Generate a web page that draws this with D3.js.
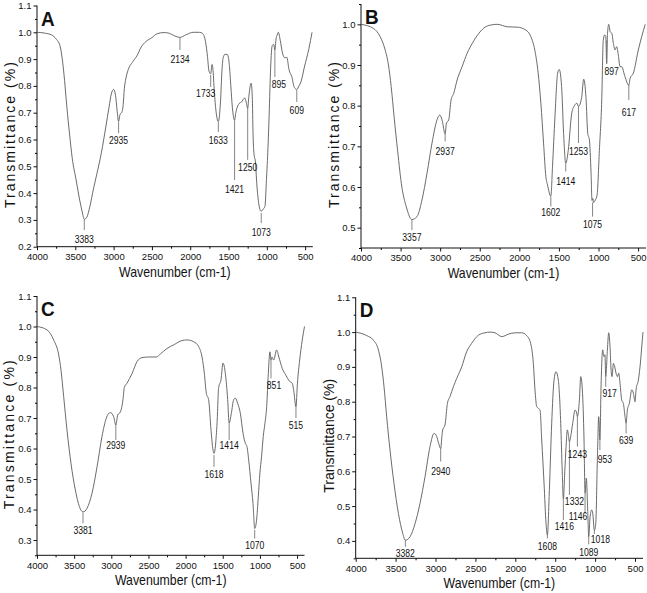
<!DOCTYPE html>
<html><head><meta charset="utf-8">
<script src="https://cdn.jsdelivr.net/npm/d3@7/dist/d3.min.js"></script>
<style>
body{margin:0;background:#fff;}
text{font-family:"Liberation Sans",Arial,sans-serif;fill:#111;}
</style></head><body>
<svg id="c" width="647" height="593"></svg>
<script>
// ---------- data ----------
const xTickValues = [4000,3500,3000,2500,2000,1500,1000,500];
const xMinorValues = [3750,3250,2750,2250,1750,1250,750];
const xDomain = [4000,400];

const waveA = [4000,3900,3810,3750,3700,3670,3640,3610,3575,3540,3490,3440,3410,3383,3350,3310,3260,3220,3160,3100,3060,3030,3000,2975,2955,2935,2915,2895,2875,2860,2845,2810,2750,2690,2640,2580,2500,2430,2340,2270,2200,2134,2060,1960,1880,1840,1800,1775,1755,1733,1715,1700,1690,1665,1633,1605,1585,1570,1545,1515,1490,1470,1450,1421,1405,1380,1360,1330,1290,1270,1250,1235,1205,1190,1180,1165,1150,1130,1105,1085,1073,1055,1025,1005,985,970,950,930,910,895,880,865,850,825,795,765,740,710,675,640,609,580,555,510,450,410];
const transA = [1.0,0.997,0.99,0.975,0.95,0.90,0.82,0.72,0.62,0.53,0.45,0.37,0.33,0.302,0.31,0.35,0.42,0.47,0.55,0.65,0.72,0.77,0.787,0.765,0.71,0.667,0.695,0.70,0.73,0.79,0.82,0.86,0.89,0.915,0.945,0.965,0.98,0.995,0.999,0.996,0.986,0.981,0.99,1.0,1.0,0.996,0.965,0.91,0.855,0.845,0.88,0.85,0.80,0.71,0.667,0.74,0.86,0.905,0.918,0.917,0.88,0.80,0.72,0.672,0.70,0.725,0.735,0.74,0.755,0.74,0.716,0.76,0.81,0.76,0.62,0.54,0.52,0.43,0.36,0.335,0.332,0.338,0.35,0.45,0.57,0.69,0.87,0.95,0.955,0.934,0.975,0.99,1.0,0.97,0.922,0.905,0.907,0.86,0.835,0.794,0.787,0.80,0.815,0.87,0.94,1.0];

const waveB = [4000,3843,3759,3695,3653,3619,3582,3538,3484,3429,3357,3293,3230,3166,3103,3040,3006,2976,2937,2921,2892,2862,2829,2786,2723,2659,2595,2511,2405,2278,2152,2024,1918,1855,1805,1762,1728,1694,1665,1644,1602,1581,1550,1516,1496,1466,1441,1414,1382,1339,1305,1272,1253,1213,1187,1158,1136,1115,1094,1082,1072,1062,1040,1018,989,959,940,922,908,897,886,870,853,832,812,791,770,750,728,708,665,617,601,560,497,410];
const transB = [1.0,0.99,0.97,0.937,0.90,0.847,0.773,0.69,0.60,0.552,0.52,0.527,0.568,0.634,0.708,0.765,0.777,0.765,0.73,0.757,0.765,0.814,0.83,0.863,0.896,0.929,0.953,0.978,0.996,1.0,0.994,0.993,0.986,0.97,0.937,0.88,0.806,0.708,0.626,0.605,0.577,0.65,0.773,0.88,0.889,0.847,0.732,0.658,0.69,0.78,0.80,0.806,0.798,0.82,0.865,0.82,0.732,0.716,0.634,0.567,0.572,0.562,0.568,0.58,0.69,0.814,0.96,0.974,0.97,0.904,0.978,1.0,0.982,0.978,0.953,0.937,0.945,0.925,0.896,0.896,0.871,0.85,0.867,0.88,0.937,1.0];

const waveC = [4000,3865,3776,3708,3677,3641,3596,3542,3484,3430,3381,3327,3260,3192,3125,3067,3013,2968,2939,2914,2878,2843,2825,2789,2721,2654,2587,2497,2394,2340,2250,2160,2048,1981,1891,1824,1779,1748,1721,1690,1658,1631,1618,1577,1555,1524,1497,1465,1434,1414,1385,1353,1331,1299,1263,1227,1196,1174,1151,1120,1093,1070,1045,1022,1000,978,955,932,909,887,865,851,838,815,775,745,700,650,600,565,545,515,495,465,430,400];
const transC = [1.0,0.989,0.956,0.907,0.857,0.77,0.66,0.55,0.464,0.41,0.392,0.404,0.453,0.54,0.64,0.70,0.718,0.704,0.677,0.71,0.72,0.76,0.80,0.814,0.846,0.885,0.898,0.90,0.90,0.91,0.928,0.94,0.954,0.956,0.95,0.934,0.90,0.847,0.781,0.76,0.66,0.595,0.584,0.683,0.80,0.825,0.88,0.846,0.76,0.683,0.715,0.76,0.765,0.748,0.715,0.65,0.617,0.606,0.562,0.486,0.42,0.338,0.365,0.442,0.52,0.573,0.64,0.683,0.737,0.846,0.917,0.89,0.90,0.89,0.923,0.90,0.863,0.84,0.82,0.814,0.79,0.737,0.814,0.89,0.956,1.0];

const waveD = [4000,3862,3779,3716,3674,3645,3612,3570,3520,3465,3411,3378,3319,3256,3194,3131,3069,3018,2985,2960,2935,2920,2910,2881,2851,2818,2776,2734,2672,2609,2546,2463,2379,2317,2254,2170,2087,2003,1920,1857,1807,1774,1753,1732,1711,1690,1669,1640,1615,1598,1573,1544,1515,1490,1461,1431,1412,1398,1380,1364,1348,1335,1322,1306,1281,1251,1231,1222,1197,1180,1160,1139,1126,1110,1093,1080,1063,1043,1030,1009,992,971,955,940,925,905,890,877,867,846,830,813,800,788,771,754,738,721,704,688,667,646,625,612,596,571,541,520,500,487,458,429,415,400];
const transD = [1.0,0.99,0.977,0.949,0.90,0.843,0.757,0.661,0.565,0.479,0.422,0.402,0.412,0.45,0.508,0.585,0.671,0.709,0.70,0.68,0.665,0.70,0.719,0.733,0.795,0.815,0.843,0.867,0.90,0.944,0.968,0.991,0.998,1.0,0.998,0.987,0.994,0.998,0.998,0.99,0.967,0.91,0.833,0.786,0.781,0.776,0.69,0.566,0.45,0.417,0.547,0.738,0.862,0.886,0.862,0.738,0.60,0.52,0.60,0.671,0.719,0.705,0.685,0.70,0.738,0.776,0.767,0.757,0.805,0.872,0.834,0.69,0.537,0.58,0.489,0.412,0.47,0.489,0.48,0.43,0.45,0.642,0.757,0.69,0.85,0.949,0.93,0.935,0.872,0.949,0.998,0.958,0.891,0.872,0.91,0.90,0.882,0.872,0.882,0.853,0.805,0.795,0.757,0.738,0.776,0.795,0.834,0.824,0.80,0.834,0.862,0.92,0.96,1.0];

// peak annotations: label, wavenumber, line from/to (transmittance), label centre (transmittance)
const peaksA = [
 {t:"3383",w:3383,y1:0.302,y2:0.262,ty:0.229,dx:0},
 {t:"2935",w:2935,y1:0.665,y2:0.624,ty:0.598,dx:0},
 {t:"2134",w:2134,y1:0.979,y2:0.934,ty:0.90,dx:0},
 {t:"1733",w:1733,y1:0.841,y2:0.796,ty:0.773,dx:-5},
 {t:"1633",w:1633,y1:0.665,y2:0.628,ty:0.598,dx:0},
 {t:"1421",w:1421,y1:0.672,y2:0.449,ty:0.412,dx:0},
 {t:"1250",w:1250,y1:0.716,y2:0.524,ty:0.497,dx:0},
 {t:"1073",w:1073,y1:0.326,y2:0.288,ty:0.255,dx:0},
 {t:"895",w:895,y1:0.934,y2:0.833,ty:0.807,dx:4},
 {t:"609",w:609,y1:0.785,y2:0.74,ty:0.71,dx:0}
];
const peaksB = [
 {t:"3357",w:3357,y1:0.519,y2:0.494,ty:0.477,dx:0},
 {t:"2937",w:2937,y1:0.73,y2:0.712,ty:0.687,dx:0},
 {t:"1602",w:1602,y1:0.576,y2:0.552,ty:0.538,dx:0},
 {t:"1414",w:1414,y1:0.658,y2:0.638,ty:0.615,dx:0},
 {t:"1253",w:1253,y1:0.798,y2:0.708,ty:0.687,dx:0},
 {t:"1075",w:1075,y1:0.562,y2:0.527,ty:0.509,dx:0},
 {t:"897",w:897,y1:0.96,y2:0.903,ty:0.885,dx:5},
 {t:"617",w:617,y1:0.851,y2:0.814,ty:0.783,dx:0}
];
const peaksC = [
 {t:"3381",w:3381,y1:0.39,y2:0.355,ty:0.33,dx:0},
 {t:"2939",w:2939,y1:0.677,y2:0.628,ty:0.611,dx:0},
 {t:"1618",w:1618,y1:0.579,y2:0.54,ty:0.515,dx:0},
 {t:"1414",w:1414,y1:0.683,y2:0.628,ty:0.609,dx:0},
 {t:"1070",w:1070,y1:0.333,y2:0.305,ty:0.284,dx:0},
 {t:"851",w:851,y1:0.89,y2:0.83,ty:0.808,dx:3},
 {t:"515",w:515,y1:0.737,y2:0.70,ty:0.677,dx:0}
];
const peaksD = [
 {t:"3382",w:3378,y1:0.403,y2:0.383,ty:0.364,dx:0},
 {t:"2940",w:2935,y1:0.665,y2:0.628,ty:0.599,dx:0},
 {t:"1608",w:1598,y1:0.417,y2:0.407,ty:0.385,dx:0},
 {t:"1416",w:1398,y1:0.52,y2:0.46,ty:0.441,dx:1},
 {t:"1332",w:1322,y1:0.685,y2:0.532,ty:0.513,dx:5},
 {t:"1243",w:1222,y1:0.757,y2:0.671,ty:0.649,dx:0},
 {t:"1146",w:1126,y1:0.537,y2:0.479,ty:0.47,dx:-7},
 {t:"1089",w:1080,y1:0.412,y2:0.39,ty:0.368,dx:0},
 {t:"1018",w:1009,y1:0.43,y2:0.42,ty:0.405,dx:6},
 {t:"953",w:940,y1:0.69,y2:0.661,ty:0.633,dx:5},
 {t:"917",w:867,y1:0.872,y2:0.843,ty:0.824,dx:4},
 {t:"639",w:612,y1:0.738,y2:0.709,ty:0.688,dx:0}
];

const yTicksA = [0.2,0.3,0.4,0.5,0.6,0.7,0.8,0.9,1.0,1.1];
const yTicksB = [0.5,0.6,0.7,0.8,0.9,1.0];
const yTicksC = [0.3,0.4,0.5,0.6,0.7,0.8,0.9,1.0,1.1];
const yTicksD = [0.4,0.5,0.6,0.7,0.8,0.9,1.0,1.1];
const yMinorA = [0.25,0.35,0.45,0.55,0.65,0.75,0.85,0.95,1.05];
const yMinorB = [0.45,0.55,0.65,0.75,0.85,0.95,1.05];
const yMinorC = [0.25,0.35,0.45,0.55,0.65,0.75,0.85,0.95,1.05];
const yMinorD = [0.35,0.45,0.55,0.65,0.75,0.85,0.95,1.05];

const letters = ["A","B","C","D"];
const xTitle = "Wavenumber (cm-1)";
const yTitle = "Transmittance (%)";

// ---------- layout ----------
const panels = [
 {wave:waveA,trans:transA,peaks:peaksA,yDom:[0.2,1.1],yT:yTicksA,yM:yMinorA,box:{l:37,r:312.8,t:5.5,b:246.7},tx:15,ls:2,tfs:14},
 {wave:waveB,trans:transB,peaks:peaksB,yDom:[0.45,1.05],yT:yTicksB,yM:yMinorB,box:{l:361,r:646,t:4,b:248},tx:339,ls:2,tfs:14},
 {wave:waveC,trans:transC,peaks:peaksC,yDom:[0.25,1.1],yT:yTicksC,yM:yMinorC,box:{l:37,r:304.5,t:296,b:555.3},tx:14,ls:2.2,tfs:14},
 {wave:waveD,trans:transD,peaks:peaksD,yDom:[0.35,1.1],yT:yTicksD,yM:yMinorD,box:{l:355.7,r:643,t:297.3,b:558.3},tx:334,ls:0,tfs:14}
];

const svg = d3.select("#c");

function narrow(sel, f){
  sel.each(function(){
    const L = this.getComputedTextLength();
    d3.select(this).attr("textLength", L*f).attr("lengthAdjust","spacingAndGlyphs");
  });
}

panels.forEach((p,i)=>{
  const b = p.box;
  const x = d3.scaleLinear().domain(xDomain).range([b.l,b.r]);
  const y = d3.scaleLinear().domain(p.yDom).range([b.b,b.t]);
  const g = svg.append("g");

  // minor ticks
  g.append("g").attr("transform",`translate(0,${b.b})`)
    .call(d3.axisBottom(x).tickValues(xMinorValues).tickSize(2).tickFormat(""))
    .call(s=>s.select(".domain").remove());
  g.append("g").attr("transform",`translate(${b.l},0)`)
    .call(d3.axisLeft(y).tickValues(p.yM).tickSize(2).tickFormat(""))
    .call(s=>s.select(".domain").remove());

  // major axes
  const xa = g.append("g").attr("transform",`translate(0,${b.b})`)
    .call(d3.axisBottom(x).tickValues(xTickValues).tickSize(3.5).tickSizeOuter(0).tickPadding(3).tickFormat(d3.format("d")));
  const ya = g.append("g").attr("transform",`translate(${b.l},0)`)
    .call(d3.axisLeft(y).tickValues(p.yT).tickSize(3.5).tickSizeOuter(0).tickPadding(2).tickFormat(d3.format(".1f")));
  [xa,ya].forEach(a=>{
    a.selectAll("text").style("font-size","9.5px").style("font-family","Liberation Sans, Arial, sans-serif").attr("fill","#111");
    a.selectAll("line,path").attr("stroke","#111");
  });
  xa.select(".domain").attr("d",`M${b.l},0H${b.r}`);
  ya.select(".domain").attr("d",`M0,${b.b}V${b.t}`);

  // spectrum
  const pts = p.wave.map((w,k)=>[w,p.trans[k]]);
  g.append("path").datum(pts)
    .attr("fill","none").attr("stroke","#5a5a5a").attr("stroke-width",0.9)
    .attr("d", d3.line().x(d=>x(d[0])).y(d=>y(d[1])).curve(d3.curveMonotoneX));

  // peak annotations
  const an = g.append("g");
  an.selectAll("line").data(p.peaks).join("line")
    .attr("x1",d=>x(d.w)).attr("x2",d=>x(d.w))
    .attr("y1",d=>y(d.y1)).attr("y2",d=>y(d.y2))
    .attr("stroke","#777").attr("stroke-width",0.9);
  an.selectAll("text").data(p.peaks).join("text")
    .attr("x",d=>x(d.w)+d.dx).attr("y",d=>y(d.ty)).attr("dy","0.36em")
    .attr("text-anchor","middle").style("font-size","10px")
    .text(d=>d.t)
    .call(narrow,0.86);

  // titles
  g.append("text").attr("x",(b.l+b.r)/2).attr("y",b.b+30)
    .attr("text-anchor","middle").style("font-size","15px").text(xTitle)
    .call(narrow,0.82);
  g.append("text").attr("transform",`translate(${p.tx},${(b.t+b.b)/2+8}) rotate(-90)`)
    .attr("text-anchor","middle").style("font-size",p.tfs+"px").style("letter-spacing",p.ls+"px")
    .text(yTitle);

  // panel letter
  g.append("text").attr("x",b.l+4).attr("y",b.t+20)
    .style("font-size","21px").style("font-weight","bold").text(letters[i])
    .call(narrow,0.9);
});
</script>
</body></html>
